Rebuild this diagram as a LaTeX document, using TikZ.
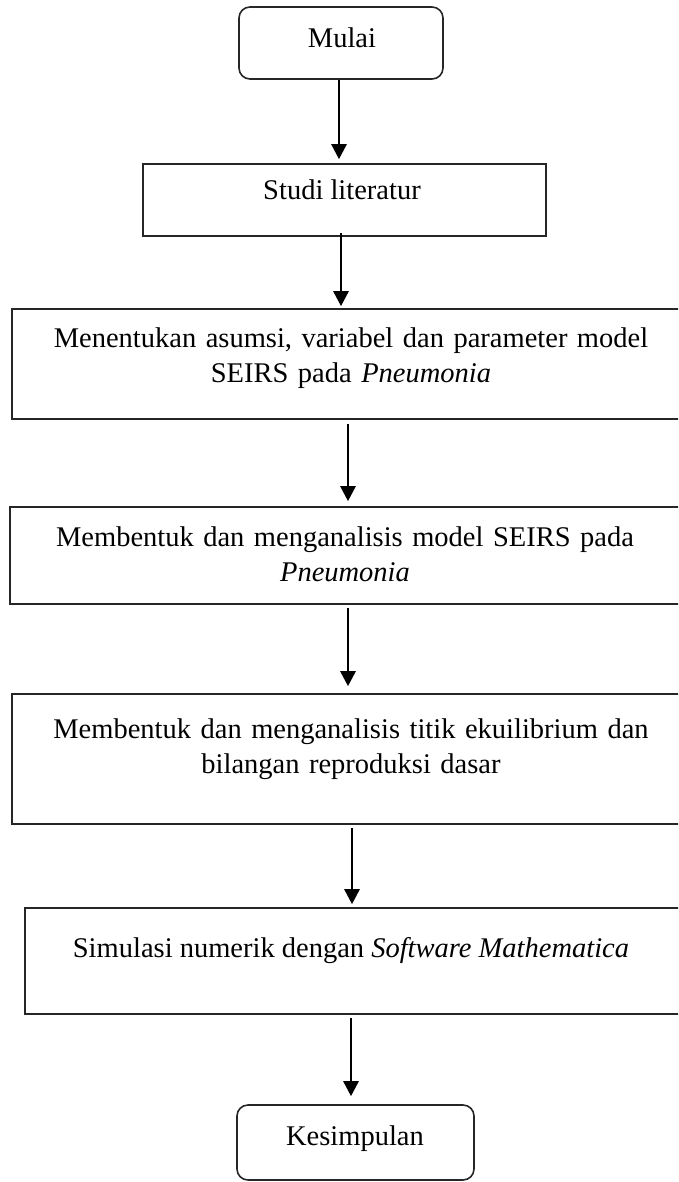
\documentclass[tikz,border=0pt]{standalone}
\usepackage{fontspec}
\setmainfont{Liberation Serif}
\usetikzlibrary{arrows.meta}
\begin{document}
\begin{tikzpicture}[x=1pt,y=-1pt,
  box/.style={draw=black!85, line width=1.6pt, rectangle, inner sep=0pt},
  roundbox/.style={box, rounded corners=11pt},
  txt/.style={anchor=base, inner sep=0pt, align=center, font=\fontsize{28.5}{35}\selectfont},
  mtxt/.style={txt, text width=660pt},
  arr/.style={line width=2.6pt, -{Triangle[width=15pt,length=15pt]}}]
\clip (0,0) rectangle (678,1182);
\useasboundingbox (0,0) rectangle (678,1182);
% boxes
\node[roundbox, minimum width=204pt, minimum height=72pt] (b1) at (341,43) {};
\node[box, minimum width=403pt, minimum height=72pt] (b2) at (344.5,200) {};
\node[box, minimum width=688pt, minimum height=110pt] (b3) at (356,364) {};
\node[box, minimum width=690pt, minimum height=97pt] (b4) at (355,555.5) {};
\node[box, minimum width=688pt, minimum height=130pt] (b5) at (356,759) {};
\node[box, minimum width=675pt, minimum height=106pt] (b6) at (362.5,961) {};
\node[roundbox, minimum width=237pt, minimum height=75pt] (b7) at (355.5,1142.5) {};
% texts
\node[txt] (t1) at (342,48) {Mulai};
\node[txt] (t2) at (342,200) {Studi literatur};
\node[mtxt] (t3) at (351,347) {Menentukan asumsi, variabel dan parameter model\\SEIRS pada \textit{Pneumonia}};
\node[mtxt] (t4) at (345,546) {Membentuk dan menganalisis model SEIRS pada\\\textit{Pneumonia}};
\node[mtxt] (t5) at (351,738) {Membentuk dan menganalisis titik ekuilibrium dan\\bilangan reproduksi dasar};
\node[txt] (t6) at (351,957) {Simulasi numerik dengan \textit{Software Mathematica}};
\node[txt] (t7) at (355,1145) {Kesimpulan};
% arrow x positions
\coordinate (a1) at (339,0);
\coordinate (a2) at (341,0);
\coordinate (a3) at (348,0);
\coordinate (a4) at (348,0);
\coordinate (a5) at (352,0);
\coordinate (a6) at (351,0);
% connectors
\draw[arr, shorten >=4pt] (b1.south -| a1) -- (b2.north -| a1);
\draw[arr, shorten <=-4pt, shorten >=2pt] (b2.south -| a2) -- (b3.north -| a2);
\draw[arr, shorten <=4pt, shorten >=5pt] (b3.south -| a3) -- (b4.north -| a3);
\draw[arr, shorten <=3pt, shorten >=7pt] (b4.south -| a4) -- (b5.north -| a4);
\draw[arr, shorten <=3pt, shorten >=3pt] (b5.south -| a5) -- (b6.north -| a5);
\draw[arr, shorten <=3pt, shorten >=8pt] (b6.south -| a6) -- (b7.north -| a6);
\end{tikzpicture}
\end{document}
